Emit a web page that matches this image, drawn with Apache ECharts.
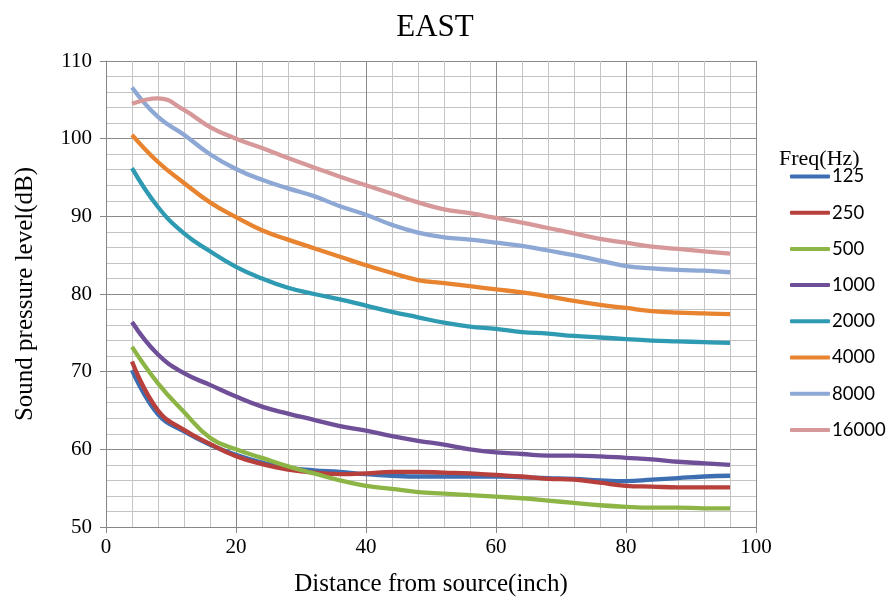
<!DOCTYPE html>
<html>
<head>
<meta charset="utf-8">
<script src="https://cdn.jsdelivr.net/npm/echarts@6/dist/echarts.min.js"></script>
<style>
  html, body { margin: 0; padding: 0; background: #fff; }
  #chart { width: 893px; height: 604px; }
</style>
</head>
<body>
<div id="chart"></div>
<script>
// Distance from the source (inch)
const distance = [4, 8, 12, 16, 20, 24, 28, 32, 36, 40, 44, 48, 52, 56, 60, 64, 68, 72, 76, 80, 84, 88, 92, 96];

// Sound pressure level (dB) per frequency band
const freqNames = ['125', '250', '500', '1000', '2000', '4000', '8000', '16000'];
const spl125   = [70.2, 64.5, 62.3, 60.6, 59.3, 58.3, 57.6, 57.3, 57.1, 56.8, 56.6, 56.5, 56.5, 56.5, 56.5, 56.4, 56.3, 56.2, 56.0, 55.9, 56.1, 56.3, 56.5, 56.6];
const spl250   = [71.3, 65.0, 62.5, 60.7, 59.1, 58.1, 57.4, 57.0, 56.8, 56.9, 57.1, 57.1, 57.0, 56.9, 56.7, 56.5, 56.2, 56.1, 55.7, 55.3, 55.2, 55.1, 55.1, 55.1];
const spl500   = [73.2, 68.5, 64.8, 61.5, 60.0, 58.9, 57.8, 56.9, 56.0, 55.3, 54.9, 54.5, 54.3, 54.1, 53.9, 53.7, 53.4, 53.1, 52.8, 52.6, 52.5, 52.5, 52.4, 52.4];
const spl1000  = [76.4, 72.2, 69.8, 68.3, 66.8, 65.5, 64.6, 63.8, 63.0, 62.4, 61.7, 61.1, 60.6, 60.0, 59.6, 59.4, 59.2, 59.2, 59.1, 58.9, 58.7, 58.4, 58.2, 58.0];
const spl2000  = [96.2, 91.2, 87.8, 85.5, 83.5, 82.0, 80.8, 80.0, 79.3, 78.5, 77.7, 77.0, 76.3, 75.8, 75.5, 75.1, 74.9, 74.6, 74.4, 74.2, 74.0, 73.9, 73.8, 73.7];
const spl4000  = [100.5, 97.0, 94.3, 91.8, 89.9, 88.2, 87.0, 85.9, 84.8, 83.7, 82.7, 81.8, 81.4, 81.0, 80.6, 80.2, 79.7, 79.1, 78.6, 78.2, 77.8, 77.6, 77.5, 77.4];
const spl8000  = [106.6, 102.8, 100.5, 98.0, 96.1, 94.7, 93.6, 92.6, 91.3, 90.2, 88.9, 87.9, 87.3, 87.0, 86.6, 86.2, 85.6, 85.0, 84.3, 83.6, 83.3, 83.1, 83.0, 82.8];
const spl16000 = [104.5, 105.2, 103.7, 101.5, 100.0, 98.8, 97.5, 96.3, 95.1, 94.0, 92.9, 91.8, 90.9, 90.4, 89.8, 89.2, 88.5, 87.8, 87.1, 86.6, 86.1, 85.8, 85.5, 85.2];

const seriesValues = [spl125, spl250, spl500, spl1000, spl2000, spl4000, spl8000, spl16000];
const lineColors = ['#3E6EB2', '#B8403C', '#8CB545', '#6F4F97', '#2F9BB2', '#E8832F', '#8EA8D5', '#D7989A'];

const serif = '"Liberation Serif", "Times New Roman", serif';

const chart = echarts.init(document.getElementById('chart'), null, { renderer: 'canvas' });

const series = freqNames.map((name, i) => ({
  name: name,
  type: 'line',
  smooth: 0.45,
  showSymbol: false,
  symbol: 'none',
  lineStyle: { width: 4.3, color: lineColors[i] },
  itemStyle: { color: lineColors[i] },
  data: distance.map((d, j) => [d, seriesValues[i][j]])
}));

chart.setOption({
  animation: false,
  backgroundColor: '#ffffff',
  title: [
    {
      text: 'EAST',
      left: 430, top: 7, textAlign: 'center',
      textStyle: { fontFamily: serif, fontSize: 31, fontWeight: 'normal', color: '#000' }
    },
    {
      text: 'Freq(Hz)',
      left: 774, top: 143,
      textStyle: { fontFamily: serif, fontSize: 22, fontWeight: 'normal', color: '#000' }
    }
  ],
  legend: {
    orient: 'vertical',
    left: 785, top: 162,
    itemWidth: 40, itemHeight: 4,
    itemGap: 17.2,
    icon: 'roundRect',
    textStyle: { fontFamily: 'Lato, "Liberation Sans", sans-serif', fontSize: 18.5, color: '#000', padding: [0, 0, 0, -3] },
    data: freqNames
  },
  grid: { left: 106, right: 137, top: 61, bottom: 77, containLabel: false },
  xAxis: {
    type: 'value',
    min: 0, max: 100, interval: 20,
    name: 'Distance from source(inch)',
    nameLocation: 'middle',
    nameGap: 45,
    nameTextStyle: { fontFamily: serif, fontSize: 25, color: '#000' },
    axisLine: { show: true, lineStyle: { color: '#868686', width: 1 } },
    axisTick: { show: true, length: 6, lineStyle: { color: '#868686' } },
    axisLabel: { fontFamily: serif, fontSize: 21, color: '#000', margin: 10 },
    splitLine: { show: true, lineStyle: { color: '#8a8a8a', width: 1 } },
    minorTick: { show: false, splitNumber: 5 },
    minorSplitLine: { show: true, lineStyle: { color: '#c4c4c4', width: 1 } }
  },
  yAxis: {
    type: 'value',
    min: 50, max: 110, interval: 10,
    name: 'Sound pressure level(dB)',
    nameLocation: 'middle',
    nameGap: 68,
    nameTextStyle: { fontFamily: serif, fontSize: 25, color: '#000' },
    axisLine: { show: true, lineStyle: { color: '#868686', width: 1 } },
    axisTick: { show: true, length: 6, lineStyle: { color: '#868686' } },
    axisLabel: { fontFamily: serif, fontSize: 21, color: '#000', margin: 14 },
    splitLine: { show: true, lineStyle: { color: '#8a8a8a', width: 1 } },
    minorTick: { show: false, splitNumber: 5 },
    minorSplitLine: { show: true, lineStyle: { color: '#c4c4c4', width: 1 } }
  },
  series: series
});
</script>
</body>
</html>
